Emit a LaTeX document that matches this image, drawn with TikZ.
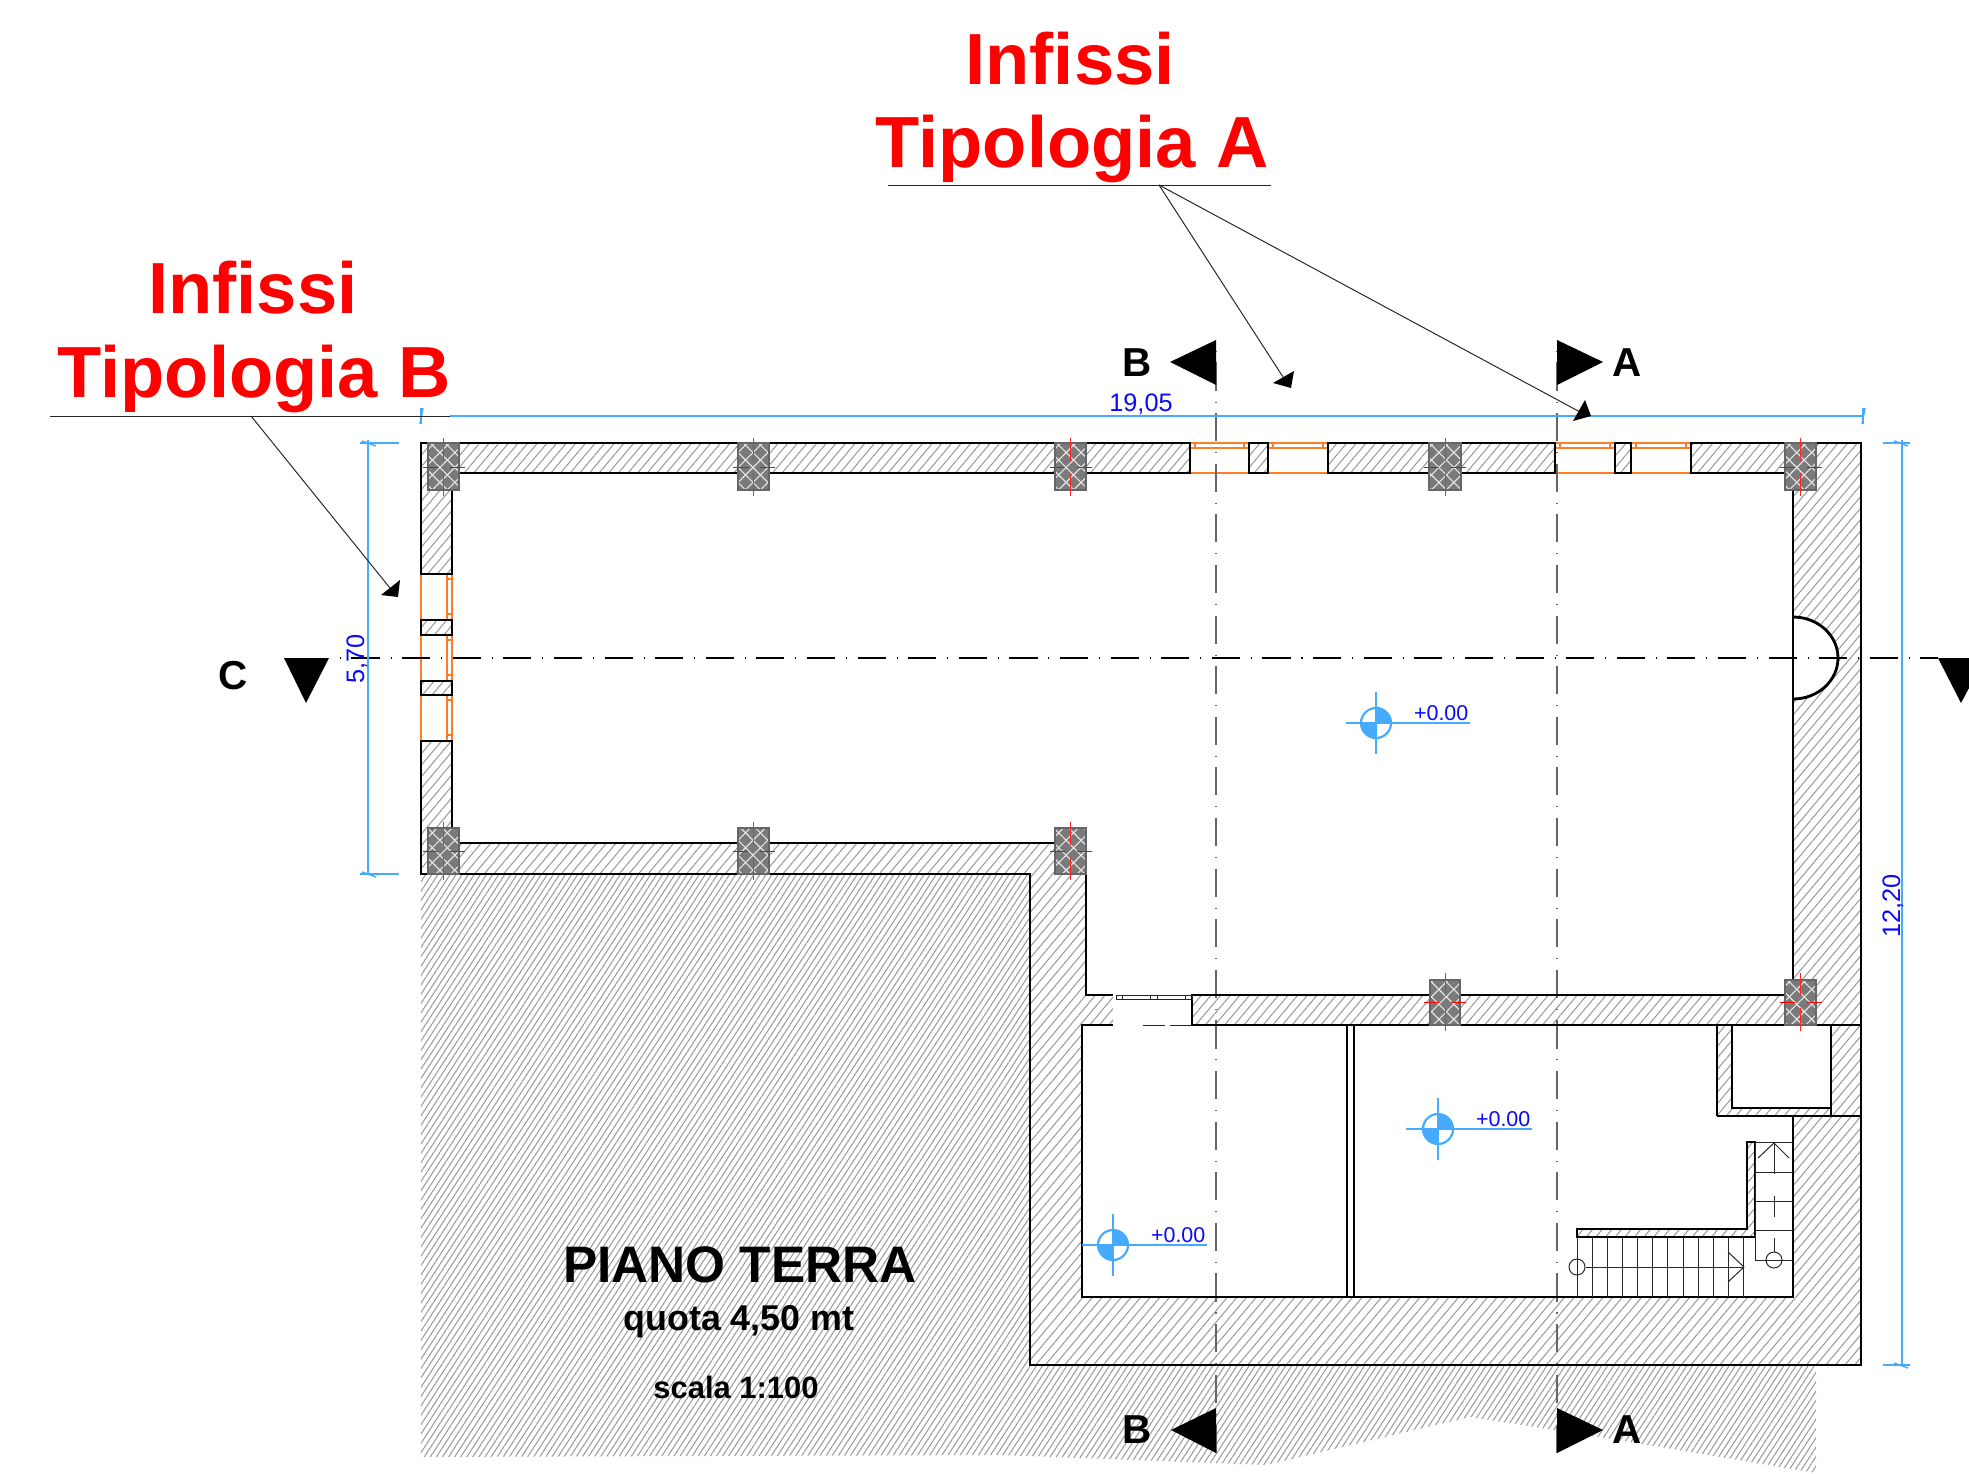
\documentclass[tikz,border=0pt]{standalone}
\usepackage{fontspec}
\setmainfont{Liberation Sans}
\usetikzlibrary{patterns.meta}
\definecolor{dimblue}{RGB}{70,170,255}
\definecolor{txtblue}{RGB}{10,10,245}
\definecolor{frameorange}{RGB}{255,125,40}
\definecolor{hatchgray}{RGB}{155,155,155}
\tikzset{
  wallline/.style={draw=black,line width=0.8pt,line join=miter},
  thinline/.style={draw=black!85,line width=0.28pt},
  wallhatch/.style={pattern={Lines[angle=50,distance=2.1pt,line width=0.3pt]},pattern color=hatchgray},
  groundhatch/.style={pattern={Lines[angle=57,distance=1.45pt,line width=0.3pt]},pattern color=hatchgray},
  dimline/.style={draw=dimblue,line width=0.42pt},
  levelline/.style={draw=dimblue,line width=0.62pt},
  frameline/.style={draw=frameorange,line width=0.36pt},
  sectionaxis/.style={draw=black!60,line width=0.3pt,dash pattern=on 8pt off 3.1pt on 0.3pt off 3pt,dash phase=8pt},
  redtitle/.style={font=\fontsize{20.6}{24}\selectfont\bfseries,text=red,inner sep=0pt},
  seclabel/.style={font=\fontsize{11.5}{14}\selectfont\bfseries,inner sep=0pt},
  dimtext/.style={font=\fontsize{7.2}{9}\selectfont,text=txtblue,inner sep=0pt},
  leveltext/.style={font=\fontsize{6.1}{8}\selectfont,text=txtblue,inner sep=0pt,anchor=south east}
}
\begin{document}
\begin{tikzpicture}[x=0.1mm,y=-0.1mm]
\clip (0,0) rectangle (1969,1474);

% ground and walls
\path[groundhatch] (421,874) -- (1030,874) -- (1030,1366) -- (1816,1366) -- (1816,1473)
  -- (1618,1440) -- (1470,1417) -- (1266,1465) -- (1000,1455) -- (421,1457) -- cycle;
\path[wallhatch] (421,443) -- (1861,443) -- (1861,1365) -- (1030,1365) -- (1030,874) -- (421,874) -- cycle;

% rooms
\fill[white] (452,473) -- (1793,473) -- (1793,995) -- (1086,995) -- (1086,843) -- (452,843) -- cycle;
\fill[white] (1082,1025) -- (1717,1025) -- (1717,1116) -- (1793,1116) -- (1793,1297) -- (1082,1297) -- cycle;
\fill[white] (1732,1025) rectangle (1831,1108);
\fill[white] (1113,995) rectangle (1192,1025);
\fill[white,wallline] (1793,617) arc[start angle=-90,end angle=90,x radius=45,y radius=41];

% openings
\foreach \ya/\yb in {574/620,635/681,695/741} {
  \fill[white] (421,\ya) rectangle (452,\yb);
  \draw[frameline] (421,\ya) -- (421,\yb);
  \draw[frameline] (447,\ya) rectangle (452,\yb);
  \draw[frameline] (447,\ya+5) -- (452,\ya+5);
  \draw[frameline] (447,\yb-6) -- (452,\yb-6);
}
\foreach \xa/\xb in {1190/1249,1268/1328,1555/1615,1631/1691} {
  \fill[white] (\xa,443) rectangle (\xb,473);
  \draw[frameline] (\xa,473) -- (\xb,473);
  \draw[frameline] (\xa,443) rectangle (\xb,448);
  \draw[frameline] (\xa+5,443) -- (\xa+5,448);
  \draw[frameline] (\xb-5,443) -- (\xb-5,448);
}

% section axes
\coordinate (axisBtop) at (1216,340);
\coordinate (axisBbot) at (1216,1453);
\coordinate (axisAtop) at (1557,340);
\coordinate (axisAbot) at (1557,1453);
\coordinate (axisCl) at (329,658);
\coordinate (axisCr) at (1938,658);
\path[sectionaxis] (axisBtop) -- (axisBbot);
\path[sectionaxis] (axisAtop) -- (axisAbot);
\path[sectionaxis,draw=black,line width=0.3pt] (axisCl) -- (axisCr);

% wall outlines
\path[wallline] (452,574) -- (421,574) -- (421,443) -- (1190,443) -- (1190,473) -- (452,473) -- cycle;
\path[wallline] (421,620) rectangle (452,635);
\path[wallline] (421,681) rectangle (452,695);
\path[wallline] (1249,443) rectangle (1268,473);
\path[wallline] (1328,443) rectangle (1555,473);
\path[wallline] (1615,443) rectangle (1631,473);
\path[wallline] (1793,995) -- (1793,473) -- (1691,473) -- (1691,443) -- (1861,443) -- (1861,1365)
  -- (1030,1365) -- (1030,874) -- (421,874) -- (421,741) -- (452,741) -- (452,843) -- (1086,843)
  -- (1086,995) -- (1113,995);
\path[wallline] (1192,1025) -- (1192,995) -- (1793,995);
\path[wallline] (1113,1025) -- (1082,1025) -- (1082,1297) -- (1793,1297) -- (1793,1116);
\path[wallline] (1192,1025) -- (1861,1025);
\path[wallline] (1717,1116) -- (1861,1116);
\path[wallline] (1717,1025) -- (1717,1116);
\path[wallline] (1831,1025) -- (1831,1116);
\path[wallline] (1732,1025) -- (1732,1108) -- (1831,1108);
\path[wallline] (1347,1025) -- (1347,1297);
\path[wallline] (1354,1025) -- (1354,1297);

% door
\path[thinline] (1116,995) rectangle (1192,999);
\foreach \xd in {1122,1150,1157,1185} {
  \path[thinline] (\xd,995) -- (\xd,999);
}
\path[thinline] (1143,1025) -- (1165,1025);
\path[thinline] (1170,1025) -- (1192,1025);

% stairs
\path[wallhatch,wallline] (1747,1142) -- (1755,1142) -- (1755,1237) -- (1577,1237) -- (1577,1229) -- (1747,1229) -- cycle;
\foreach \i in {0,...,11} {
  \path[thinline] (1577+15.15*\i,1237) -- (1577+15.15*\i,1297);
}
\path[thinline] (1755,1142) -- (1755,1260) -- (1793,1260);
\foreach \ys in {1142,1172,1201,1230} {
  \path[thinline] (1755,\ys) -- (1793,\ys);
}
\node[draw=black!85,line width=0.28pt,circle,minimum size=1.6mm,inner sep=0pt] (stairsA) at (1577,1267) {};
\node[draw=black!85,line width=0.28pt,circle,minimum size=1.6mm,inner sep=0pt] (stairsB) at (1774,1260) {};
\coordinate (stairsAtip) at (1744,1267);
\coordinate (stairsBtip) at (1774,1143);
\path[thinline] (stairsA) -- (stairsAtip);
\path[thinline] (1728,1252) -- (stairsAtip) -- (1728,1282);
\path[thinline] (1758,1158) -- (stairsBtip) -- (1789,1158);
\path[thinline] (stairsBtip) -- (1774,1174);
\path[thinline] (1774,1196) -- (1774,1217);
\path[thinline] (1774,1238) -- (stairsB);

% pillars
\foreach \xa/\ya/\yb/\yc/\pw in {
  428/443/490/467/31, 738/443/490/467/31, 1055/443/490/467/31, 1429/443/490/467/32, 1785/443/490/467/31,
  428/828/874/851/31, 738/828/874/851/31, 1055/828/874/851/31, 1430/980/1025/1002/30, 1785/980/1025/1002/31} {
  \fill[black!52] (\xa,\ya) rectangle (\xa+\pw,\yb);
  \path[pattern={Lines[angle=45,distance=3pt,line width=0.32pt]},pattern color=white!90!black] (\xa,\ya) rectangle (\xa+\pw,\yb);
  \path[pattern={Lines[angle=-45,distance=3pt,line width=0.32pt]},pattern color=white!90!black] (\xa,\ya) rectangle (\xa+\pw,\yb);
  \draw[black!60,line width=0.3pt] (\xa,\ya) rectangle (\xa+\pw,\yb);
  \draw[red!85,line width=0.26pt] (\xa+\pw/2,\yc-29) -- (\xa+\pw/2,\yc-6);
  \draw[red!85,line width=0.26pt] (\xa+\pw/2,\yc+6) -- (\xa+\pw/2,\yc+29);
  \draw[red,line width=0.26pt] (\xa+\pw/2-21,\yc) -- (\xa+\pw/2-6,\yc);
  \draw[red,line width=0.26pt] (\xa+\pw/2+6,\yc) -- (\xa+\pw/2+21,\yc);
}

% levels
\foreach \nm/\cx/\cy/\xa/\xb in {a/1376/723/1346/1470, b/1438/1129/1406/1532, c/1113/1245/1082/1207} {
  \fill[dimblue] (\cx,\cy) -- (\cx+15,\cy) arc[start angle=0,end angle=-90,radius=15] -- cycle;
  \fill[dimblue] (\cx,\cy) -- (\cx-15,\cy) arc[start angle=180,end angle=90,radius=15] -- cycle;
  \draw[levelline] (\cx,\cy) circle[radius=15];
  \draw[levelline] (\cx,\cy-31) -- (\cx,\cy+31);
  \draw[levelline] (\xa,\cy) -- (\xb,\cy);
  \node[leveltext] (lev\nm) at (\xb-1,\cy-2) {+0.00};
}

% dimensions
\coordinate (dimTl) at (450,416);
\coordinate (dimTr) at (1863,416);
\path[dimline] (dimTl) -- (dimTr);
\path[dimline] (421,408) -- (421,424);
\path[dimline] (420,424) -- (423,408);
\path[dimline] (1863,408) -- (1863,424);
\path[dimline] (1862,424) -- (1865,408);
\path[dimline] (368,440) -- (368,874);
\path[dimline] (360,443) -- (399,443);
\path[dimline] (360,874) -- (399,874);
\path[dimline] (362,441) -- (376,446);
\path[dimline] (362,872) -- (376,877);
\path[dimline] (1902,440) -- (1902,1365);
\path[dimline] (1883,443) -- (1910,443);
\path[dimline] (1883,1365) -- (1910,1365);
\path[dimline] (1894,441) -- (1908,446);
\path[dimline] (1894,1363) -- (1908,1368);
\node[dimtext] (dimlong) at (1141,404) {19,05};
\node[dimtext,rotate=90] (dimleft) at (357,659) {5,70};
\node[dimtext,rotate=90] (dimright) at (1893,906) {12,20};

% section marks
\fill (axisBtop) -- (1170,362) -- (1216,385) -- cycle;
\fill (axisBbot) -- (1171,1430) -- (1216,1408) -- cycle;
\fill (axisAtop) -- (1603,362) -- (1557,385) -- cycle;
\fill (axisAbot) -- (1603,1430) -- (1557,1408) -- cycle;
\fill (284,658) -- (axisCl) -- (306,703) -- cycle;
\fill (axisCr) -- (1985,658) -- (1961,703) -- cycle;
\node[seclabel] (secBtop) at (1137,363) {B};
\node[seclabel] (secAtop) at (1627,363) {A};
\node[seclabel] (secBbot) at (1137,1430) {B};
\node[seclabel] (secAbot) at (1627,1430) {A};
\node[seclabel] (secC) at (233,676) {C};

% callouts
\node[redtitle] (infA) at (1070,59) {Infissi};
\node[redtitle] (tipA) at (1072,149) {Tipologia A};
\node[redtitle] (infB) at (253,288) {Infissi};
\node[redtitle] (tipB) at (254,379) {Tipologia B};
\coordinate (ulAl) at (888,185);
\coordinate (ulAr) at (1271,185);
\coordinate (hubA) at (1159,185);
\coordinate (ulBl) at (50,416);
\coordinate (ulBr) at (450,416);
\coordinate (hubB) at (251,416);
\coordinate (headA) at (1283,377);
\coordinate (headAA) at (1580,412);
\coordinate (headB) at (390,588);
\draw[thinline] (ulAl) -- (ulAr);
\draw[thinline] (ulBl) -- (ulBr);
\draw[thinline] (hubA) -- (headA);
\draw[thinline] (hubA) -- (headAA);
\draw[thinline] (hubB) -- (headB);
\fill (1273,383) -- (1294,371) -- (1291,388) -- cycle;
\fill (1573,421) -- (1585,400) -- (1591,416) -- cycle;
\fill (381,595) -- (400,580) -- (398,597) -- cycle;

% title
\node[font=\fontsize{14.6}{17}\selectfont\bfseries,inner sep=0pt] (title) at (740,1265) {PIANO TERRA};
\node[font=\fontsize{10.2}{13}\selectfont\bfseries,inner sep=0pt] (quota) at (739,1322) {quota 4,50 mt};
\node[font=\fontsize{8.8}{11}\selectfont\bfseries,inner sep=0pt] (scala) at (736,1387) {scala 1:100};
\end{tikzpicture}
\end{document}
